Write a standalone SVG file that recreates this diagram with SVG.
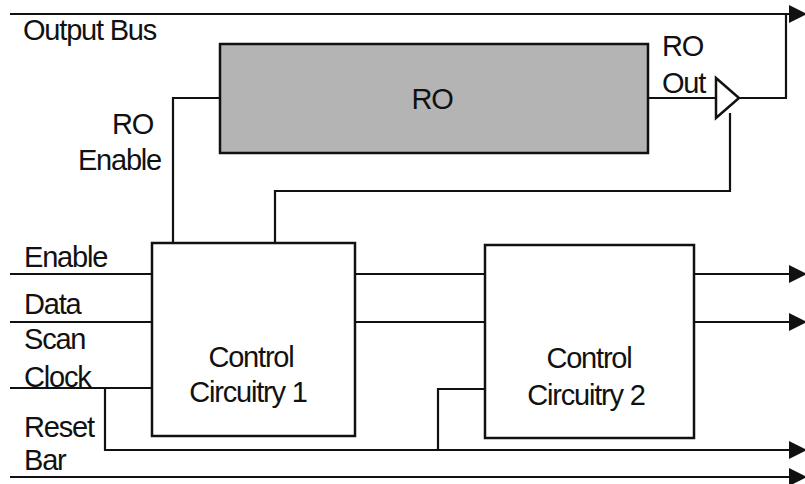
<svg xmlns="http://www.w3.org/2000/svg" width="805" height="484" viewBox="0 0 805 484">
<defs>
<marker id="arr" markerWidth="18" markerHeight="18" viewBox="0 0 18 18" refX="17" refY="9" orient="auto" markerUnits="userSpaceOnUse">
<path d="M0,0 L18,9 L0,18 Z" fill="#111"/>
</marker>
</defs>
<style>
.w{fill:none;stroke:#111;stroke-width:2.2}
.box{fill:#fff;stroke:#111;stroke-width:2.5}
.ro{fill:#b4b4b4;stroke:#111;stroke-width:2.5}
text{font-family:"Liberation Sans",Arial,sans-serif;font-size:29px;fill:#111;letter-spacing:-1.2px}
.m{text-anchor:middle}
.e{text-anchor:end}
</style>
<g id="connectors">
<line class="w" x1="10" y1="14" x2="806" y2="14" marker-end="url(#arr)"/>
<polyline class="w" points="739,98 786,98 786,14"/>
<line class="w" x1="648" y1="98" x2="716" y2="98"/>
<polyline class="w" points="220,98 173,98 173,243"/>
<polyline class="w" points="730,113 730,191 275,191 275,246"/>
<line class="w" x1="10" y1="274" x2="152" y2="274"/>
<line class="w" x1="355" y1="274" x2="485" y2="274"/>
<line class="w" x1="694" y1="274" x2="806" y2="274" marker-end="url(#arr)"/>
<line class="w" x1="10" y1="322" x2="152" y2="322"/>
<line class="w" x1="355" y1="322" x2="806" y2="322" marker-end="url(#arr)"/>
<line class="w" x1="10" y1="388" x2="152" y2="388"/>
<polyline class="w" points="105,388 105,450 806,450" marker-end="url(#arr)"/>
<polyline class="w" points="438,450 438,389 485,389"/>
<line class="w" x1="10" y1="477" x2="806" y2="477" marker-end="url(#arr)"/>
</g>
<g id="ro">
<rect class="ro" x="220" y="44" width="428" height="109"/>
<text class="m" x="432" y="109">RO</text>
</g>
<g id="buffer">
<polygon class="box" points="716,78 739,98 716,118"/>
</g>
<g id="cc1">
<rect class="box" x="152" y="243" width="203" height="193"/>
<text class="m" x="251" y="367">Control</text>
<text class="m" x="248" y="402">Circuitry 1</text>
</g>
<g id="cc2">
<rect class="box" x="485" y="245" width="209" height="193"/>
<text class="m" x="589" y="368">Control</text>
<text class="m" x="586" y="405">Circuitry 2</text>
</g>
<g id="labels">
<text x="23" y="40">Output Bus</text>
<text class="e" x="153" y="134">RO</text>
<text class="e" x="161" y="170">Enable</text>
<text x="662" y="56">RO</text>
<text x="662" y="93">Out</text>
<text x="24" y="267">Enable</text>
<text x="24" y="314">Data</text>
<text x="24" y="349">Scan</text>
<text x="24" y="387">Clock</text>
<text x="24" y="437">Reset</text>
<text x="24" y="470">Bar</text>
</g>
</svg>
